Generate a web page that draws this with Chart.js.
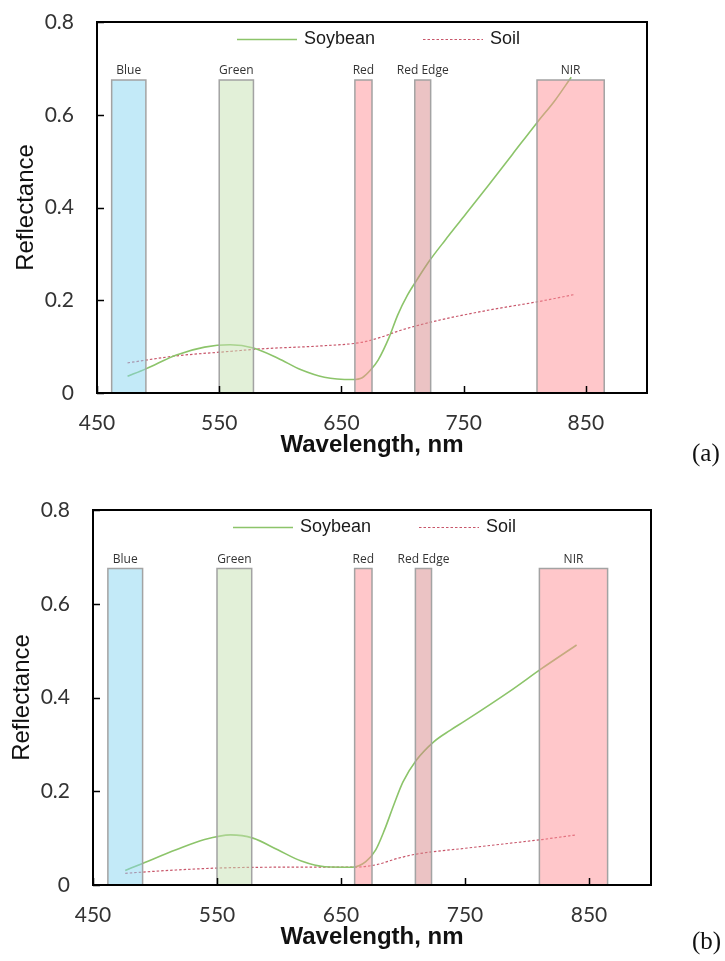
<!DOCTYPE html>
<html>
<head>
<meta charset="utf-8">
<script src="https://cdn.jsdelivr.net/npm/chart.js@4.4.1/dist/chart.umd.min.js"></script>
<style>
  html, body { margin: 0; padding: 0; background: #fff; }
  .wrap { position: relative; width: 725px; height: 961px; }
  canvas { position: absolute; left: 0; }
  .tag { position: absolute; font-family: 'Liberation Serif', 'Times New Roman', serif; font-size: 25px; color: #111; line-height: 30px; }
</style>
</head>
<body>
<div class="wrap">
  <canvas id="chartA" width="725" height="480" style="top:0"></canvas>
  <canvas id="chartB" width="725" height="481" style="top:480px"></canvas>
  <div class="tag" style="left:692px;top:438px">(a)</div>
  <div class="tag" style="left:692px;top:926px">(b)</div>
</div>
<script>
// ticks
const xTicks = [450, 550, 650, 750, 850];
const yTicks = [0, 0.2, 0.4, 0.6, 0.8];

// camera bands (nm) and their drawn height
const bandNames = ['Blue', 'Green', 'Red', 'Red Edge', 'NIR'];
const bandStart = [462, 550, 661, 710, 810];
const bandEnd   = [490, 578, 675, 723, 865];
const bandTop   = 0.675;

// (a) spectra
const soyAx  = [475, 490, 515, 538, 559, 578, 598, 617, 636, 659, 667, 674, 680, 689, 696, 704, 712, 722, 735, 750, 770, 790, 810, 825, 838];
const soyAy  = [0.036, 0.052, 0.082, 0.099, 0.104, 0.097, 0.075, 0.050, 0.034, 0.029, 0.033, 0.050, 0.071, 0.120, 0.168, 0.211, 0.245, 0.285, 0.330, 0.380, 0.447, 0.515, 0.583, 0.632, 0.681];
const soilAx = [475, 515, 560, 583, 636, 666, 682, 697, 725, 769, 811, 840];
const soilAy = [0.065, 0.080, 0.090, 0.095, 0.102, 0.109, 0.120, 0.134, 0.154, 0.178, 0.197, 0.212];

// (b) spectra
const soyBx  = [476, 490, 517, 540, 561, 579, 599, 618, 637, 659, 670, 678, 685, 693, 700, 711, 725, 738, 750, 786, 812, 840];
const soyBy  = [0.031, 0.046, 0.075, 0.097, 0.107, 0.100, 0.075, 0.051, 0.039, 0.038, 0.050, 0.075, 0.117, 0.174, 0.220, 0.267, 0.306, 0.330, 0.350, 0.413, 0.462, 0.512];
const soilBx = [476, 517, 562, 618, 659, 678, 696, 711, 749, 786, 812, 840];
const soilBy = [0.025, 0.032, 0.037, 0.038, 0.038, 0.043, 0.057, 0.066, 0.078, 0.089, 0.097, 0.107];

// styles
const bandFill   = ['rgba(135,213,241,0.5)', 'rgba(197,225,177,0.5)', 'rgba(255,143,149,0.5)', 'rgba(215,135,137,0.5)', 'rgba(255,143,149,0.5)'];
const soyColor   = '#8cc46a';
const soilColor  = '#c8566a';
const tickFont   = { family: "Lato, 'Open Sans', sans-serif", size: 21 };
const sansFamily = "'Liberation Sans', Arial, sans-serif";

const zip = (xs, ys) => xs.map((x, i) => ({ x, y: ys[i] }));

const framePlugin = {
  id: 'frame',
  afterDraw(chart) {
    const { ctx, chartArea: a, scales: { x, y } } = chart;
    ctx.save();
    ctx.strokeStyle = '#000';
    ctx.lineWidth = 2;
    ctx.strokeRect(a.left, a.top, a.right - a.left, a.bottom - a.top);
    ctx.lineWidth = 1.5;
    ctx.beginPath();
    x.ticks.forEach((t) => {
      const px = Math.round(x.getPixelForValue(t.value)) + 0.5;
      ctx.moveTo(px, a.bottom);
      ctx.lineTo(px, a.bottom - 7);
    });
    y.ticks.forEach((t) => {
      const py = Math.round(y.getPixelForValue(t.value)) + 0.5;
      ctx.moveTo(a.left, py);
      ctx.lineTo(a.left + 7, py);
    });
    ctx.stroke();
    ctx.restore();
  },
};

const bandLabelPlugin = {
  id: 'bandLabels',
  afterDatasetsDraw(chart) {
    const { ctx, scales: { x, y } } = chart;
    ctx.save();
    ctx.fillStyle = '#333';
    ctx.font = "12px 'Open Sans', sans-serif";
    ctx.textAlign = 'center';
    ctx.textBaseline = 'middle';
    bandNames.forEach((name, i) => {
      const cx = x.getPixelForValue((bandStart[i] + bandEnd[i]) / 2);
      ctx.fillText(name, cx, y.getPixelForValue(bandTop) - 9);
    });
    ctx.restore();
  },
};

const legendPlugin = {
  id: 'insideLegend',
  afterDraw(chart) {
    const { ctx, chartArea: a } = chart;
    const items = chart.data.datasets.filter((d) => d.inLegend);
    const x0 = a.left + 140, y0 = a.top + 17.5;
    items.forEach((d, i) => {
      const lx = x0 + i * 186;
      ctx.save();
      ctx.strokeStyle = d.borderColor;
      ctx.lineWidth = d.borderWidth;
      ctx.setLineDash(d.borderDash || []);
      ctx.beginPath();
      ctx.moveTo(lx, y0);
      ctx.lineTo(lx + 60, y0);
      ctx.stroke();
      ctx.setLineDash([]);
      ctx.fillStyle = '#1a1a1a';
      ctx.font = `18px ${sansFamily}`;
      ctx.textBaseline = 'middle';
      ctx.fillText(d.label, lx + 67, y0);
      ctx.restore();
    });
  },
};

function makeChart(id, soyX, soyY, soilX, soilY, box, height) {
  const bandSets = bandNames.map((name, i) => ({
    label: name,
    data: [
      { x: bandStart[i], y: 0 }, { x: bandStart[i], y: bandTop },
      { x: bandEnd[i], y: bandTop }, { x: bandEnd[i], y: 0 },
    ],
    borderColor: '#a3a3a3',
    borderWidth: 1.5,
    backgroundColor: bandFill[i],
    fill: 'origin',
    pointRadius: 0,
    tension: 0,
    order: 0,
  }));

  return new Chart(document.getElementById(id), {
    type: 'line',
    data: {
      datasets: [
        ...bandSets,
        {
          label: 'Soybean', inLegend: true,
          data: zip(soyX, soyY),
          borderColor: soyColor, borderWidth: 1.6,
          pointRadius: 0, fill: false,
          cubicInterpolationMode: 'monotone',
          order: 1,
        },
        {
          label: 'Soil', inLegend: true,
          data: zip(soilX, soilY),
          borderColor: soilColor, borderWidth: 1.2, borderDash: [2.5, 2],
          pointRadius: 0, fill: false,
          cubicInterpolationMode: 'monotone',
          order: 1,
        },
      ],
    },
    options: {
      responsive: false,
      animation: false,
      devicePixelRatio: 1,
      layout: {
        padding: { left: box.left - 90, top: box.top, right: 725 - box.right, bottom: height - box.bottom - 70 },
      },
      plugins: { legend: { display: false }, tooltip: { enabled: false } },
      scales: {
        x: {
          type: 'linear', min: 450, max: 900,
          afterBuildTicks: (s) => { s.ticks = xTicks.map((v) => ({ value: v })); },
          afterFit: (s) => { s.height = 70; s.paddingLeft = 0; s.paddingRight = 0; },
          grid: { display: false, drawTicks: false }, border: { display: false },
          ticks: { font: tickFont, color: '#333', padding: 18 },
          title: {
            display: true, text: 'Wavelength, nm', color: '#111',
            font: { family: sansFamily, size: 24, weight: 'bold' },
            padding: { top: 0, bottom: 3.6 },
          },
        },
        y: {
          min: 0, max: 0.8,
          afterBuildTicks: (s) => { s.ticks = yTicks.map((v) => ({ value: v })); },
          afterFit: (s) => { s.width = 90; s.paddingTop = 0; s.paddingBottom = 0; },
          grid: { display: false, drawTicks: false }, border: { display: false },
          ticks: { font: tickFont, color: '#333', padding: 23, callback: (v) => String(v) },
          title: {
            display: true, text: 'Reflectance', color: '#111',
            font: { family: sansFamily, size: 24 },
            padding: { top: 5, bottom: 0 },
          },
        },
      },
    },
    plugins: [bandLabelPlugin, framePlugin, legendPlugin],
  });
}

makeChart('chartA', soyAx, soyAy, soilAx, soilAy, { left: 97, right: 647, top: 22, bottom: 393 }, 480);
makeChart('chartB', soyBx, soyBy, soilBx, soilBy, { left: 93, right: 651, top: 30, bottom: 405 }, 481);
</script>
</body>
</html>
